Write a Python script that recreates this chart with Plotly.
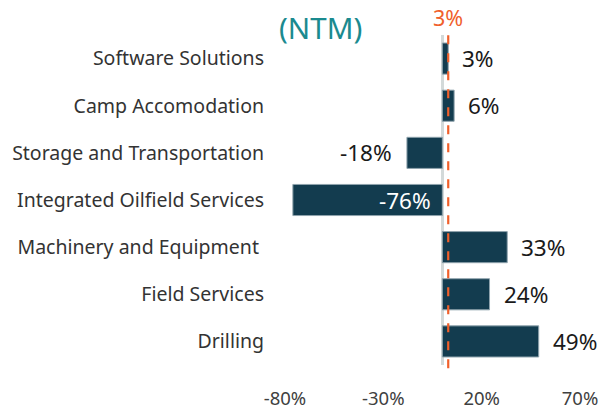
import plotly.graph_objects as go

categories = ["Software Solutions", "Camp Accomodation", "Storage and Transportation",
              "Integrated Oilfield Services", "Machinery and Equipment ", "Field Services", "Drilling"]
values = [3, 6, -18, -76, 33, 24, 49]
labels = ["3%", "6%", "-18%", "-76%", "33%", "24%", "49%"]
tick_vals = [-80, -30, 20, 70]
tick_text = ["-80%", "-30%", "20%", "70%"]
average = 3
average_label = "3%"
title_text = "(NTM)"

FONT = "Noto Sans"
BAR = "#133c4f"

fig = go.Figure()
fig.add_trace(go.Bar(
    x=values, y=categories, orientation="h",
    marker=dict(color=BAR, line=dict(color="#8fa3ad", width=1)),
    width=0.66, hoverinfo="skip",
))

annotations = []
for c, v, t in zip(categories, values, labels):
    if v < -50:
        annotations.append(dict(x=0, y=c, xref="x", yref="y", text=t, showarrow=False,
                                xanchor="right", xshift=-9,
                                font=dict(family=FONT, size=22.5, color="white")))
    elif v < 0:
        annotations.append(dict(x=v, y=c, xref="x", yref="y", text=t, showarrow=False,
                                xanchor="right", xshift=-13,
                                font=dict(family=FONT, size=22.5, color="#1a1a1a")))
    else:
        annotations.append(dict(x=v, y=c, xref="x", yref="y", text=t, showarrow=False,
                                xanchor="left", xshift=12,
                                font=dict(family=FONT, size=22.5, color="#1a1a1a")))

annotations.append(dict(x=average, y=1, xref="x", yref="paper", text=average_label,
                        showarrow=False, yanchor="bottom", yshift=1,
                        font=dict(family=FONT, size=21.5, color="#f0602b")))
annotations.append(dict(x=0, y=1, xref="paper", yref="paper", text=title_text,
                        showarrow=False, xanchor="left", yanchor="bottom", xshift=-8, yshift=-15,
                        font=dict(family=FONT, size=29.5, color="#1b8a8f")))

fig.add_shape(type="line", x0=average, x1=average, xref="x", yref="paper",
              y0=-0.01, y1=1.02, line=dict(color="#f0602b", width=2.2, dash="dash"))

# page body adds an 8px margin, so the figure is sized to fit the window
fig.update_layout(
    width=606, height=400,
    margin=dict(l=277, r=34, t=27, b=43, autoexpand=False),
    paper_bgcolor="white", plot_bgcolor="white",
    showlegend=False,
    annotations=annotations,
    xaxis=dict(range=[-80, 70], tickvals=tick_vals, ticktext=tick_text,
               showgrid=False, zeroline=True, zerolinecolor="#d3d9d9", zerolinewidth=2.5,
               showline=False, ticks="", ticklabelstandoff=20, automargin=False,
               tickfont=dict(family=FONT, size=18.5, color="#404040")),
    yaxis=dict(autorange="reversed", showgrid=False, showline=False, ticks="",
               ticklabelstandoff=20, automargin=False,
               tickfont=dict(family=FONT, size=19.5, color="#333333")),
)

fig.write_html("out.html")
